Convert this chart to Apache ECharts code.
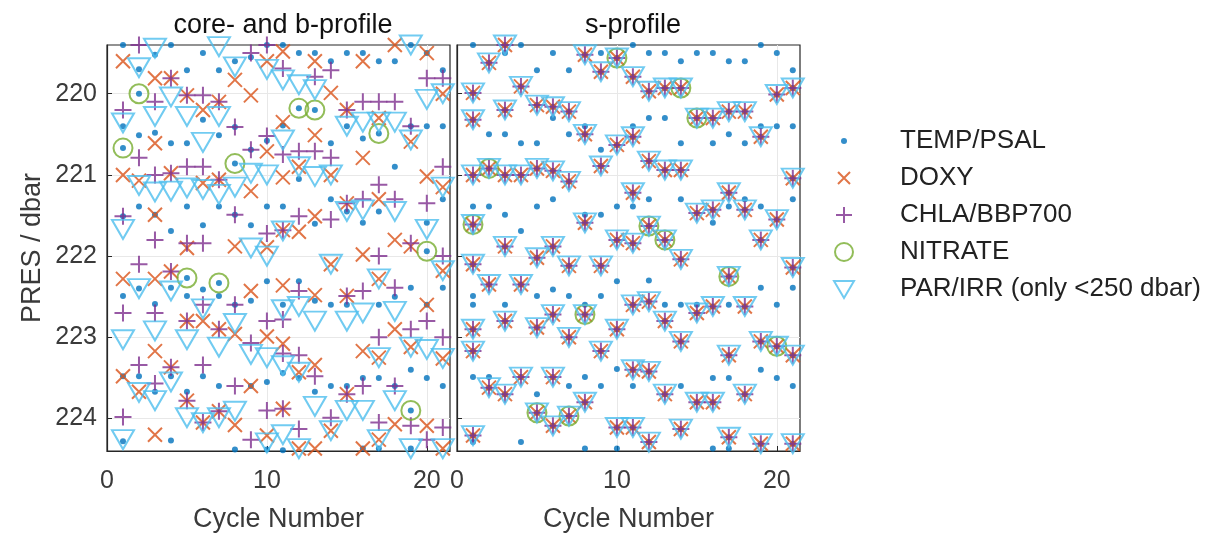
<!DOCTYPE html>
<html><head><meta charset="utf-8">
<script src="https://cdn.jsdelivr.net/npm/echarts@6/dist/echarts.min.js"></script>
<style>html,body{margin:0;padding:0;background:#fff}#c{width:1216px;height:540px}</style>
</head><body><div id="c"></div>
<script>
// ---------- DATA (pressures per cycle, index 0 = cycle 1) ----------
const panelTitles = ['core- and b-profile', 's-profile'];
const xTicks = [0, 10, 20];
const yTicks = [220, 221, 222, 223, 224];
const seriesNames = ['TEMP/PSAL', 'DOXY', 'CHLA/BBP700', 'NITRATE', 'PAR/IRR (only <250 dbar)'];

// core- and b-profile
const coreTemp = [
  [219.40, 220.40, 220.67, 221.51, 222.49, 223.48, 224.28],
  [219.70, 220.00, 220.51, 221.39, 222.40, 223.48],
  [219.52, 220.48, 221.49, 222.59, 223.67],
  [219.40, 220.61, 221.69, 222.39, 223.48, 224.27],
  [219.71, 220.61, 221.39, 222.27, 222.49, 223.67],
  [219.50, 220.32, 221.62, 222.41, 223.48],
  [219.71, 220.51, 221.39, 222.33, 222.49, 223.60],
  [219.60, 220.41, 220.86, 221.49, 222.60, 224.38],
  [219.55, 220.69, 221.62, 222.55, 223.60],
  [219.40, 220.58, 221.39, 222.31, 223.55, 224.38],
  [219.40, 220.39, 221.39, 222.60, 223.44, 224.39],
  [219.50, 220.18, 221.05, 222.31, 223.50],
  [219.50, 220.20, 221.60, 222.55, 223.67],
  [219.60, 220.61, 221.30, 222.60, 223.60],
  [219.50, 220.40, 221.45, 222.60, 223.60],
  [219.50, 220.55, 221.59, 223.50, 224.37],
  [219.60, 220.49, 221.45, 222.60, 223.50, 224.37],
  [219.60, 220.90, 222.50, 223.60],
  [219.40, 220.40, 222.39, 223.40, 223.90, 224.37],
  [219.50, 220.40, 221.59, 221.94, 222.60, 223.50],
  [219.71, 220.40, 221.30, 222.39, 223.60]
];
const coreDoxy = [
  [219.60, 221.00, 222.28, 223.48],
  [221.07, 223.67],
  [219.81, 220.61, 221.49, 222.28, 223.17, 224.20],
  [219.81, 220.98, 222.19, 223.37],
  [220.02, 221.90, 222.80, 223.78],
  [220.20, 221.10, 222.80, 224.05],
  [220.10, 221.06, 222.90, 223.91],
  [219.83, 221.88, 222.96, 224.08],
  [220.02, 221.20, 222.43, 223.60],
  [219.60, 220.71, 221.89, 222.99, 224.21],
  [219.48, 220.35, 221.03, 221.68, 222.36, 223.08, 223.88],
  [220.90, 221.70, 223.43, 224.37],
  [219.60, 220.51, 221.51, 222.48, 223.34, 224.37],
  [219.99, 221.00, 222.10, 224.15],
  [220.20, 221.35, 222.49, 223.70],
  [219.60, 220.79, 221.98, 223.17, 224.37],
  [220.30, 221.30, 222.28, 223.25, 224.26],
  [219.40, 221.80, 222.90, 224.07],
  [220.59, 221.88, 223.12],
  [219.50, 221.02, 222.60, 224.09],
  [220.00, 221.15, 222.18, 223.26, 224.37]
];
const coreChla = [
  [220.20, 221.51, 222.70, 223.98],
  [219.40, 220.79, 222.10, 223.34],
  [220.10, 221.00, 221.80, 222.70, 223.57],
  [219.81, 220.98, 222.19, 223.37],
  [220.02, 220.90, 221.84, 222.80, 223.78],
  [220.02, 220.90, 221.84, 222.60, 223.34, 224.05],
  [220.10, 221.06, 222.90, 223.91],
  [220.41, 221.49, 222.60, 223.60],
  [219.50, 220.69, 223.07, 224.26],
  [219.40, 220.52, 221.72, 222.80, 223.90],
  [219.69, 220.75, 221.68, 222.78, 223.20, 223.88],
  [220.71, 221.51, 222.43, 223.22, 224.13],
  [219.79, 220.71, 223.48],
  [219.71, 220.79, 221.55, 223.99],
  [220.20, 221.35, 222.49, 223.70],
  [220.10, 221.30, 222.43, 223.60],
  [220.10, 221.12, 222.00, 223.00, 224.05],
  [220.10, 221.30, 222.39, 223.60],
  [220.40, 221.84, 222.90, 224.09],
  [219.81, 221.35, 222.80, 224.26],
  [219.81, 220.90, 222.00, 223.00, 224.11]
];
const corePar = [
  [220.36, 221.67, 223.03, 224.26],
  [219.68, 221.13, 222.40, 223.68],
  [219.44, 220.28, 221.21, 222.92, 223.78],
  [220.04, 221.20, 222.43, 223.55],
  [220.28, 221.16, 223.03, 223.99],
  [220.60, 221.18, 222.65, 224.05],
  [219.42, 220.28, 221.24, 223.12, 223.99],
  [219.67, 221.15, 222.83, 223.91],
  [220.98, 221.90, 223.21],
  [219.70, 221.00, 222.00, 223.25, 224.30],
  [219.83, 220.57, 221.69, 222.66, 223.35, 224.20],
  [219.89, 220.90, 222.62, 223.43, 224.37],
  [219.95, 221.02, 222.80, 223.85],
  [221.00, 222.10, 224.15],
  [220.40, 221.45, 222.80, 223.90],
  [220.35, 221.43, 222.70, 223.90],
  [220.35, 222.28, 223.25, 224.26],
  [220.35, 221.45, 222.68, 223.78],
  [219.40, 220.57, 223.12, 224.37],
  [220.07, 221.67, 223.15],
  [220.00, 221.15, 222.18, 223.26, 224.37]
];
const coreNitrateCycle = [1, 2, 5, 7, 8, 12, 13, 17, 19, 20];
const coreNitratePres  = [220.67, 220.00, 222.27, 222.33, 220.86, 220.18, 220.20, 220.49, 223.90, 221.94];

// s-profile: levels shared by TEMP, DOXY, CHLA and PAR
const sShared = [
  [219.99, 220.32, 221.00, 221.61, 222.10, 222.90, 223.17, 224.21],
  [219.62, 220.92, 222.35, 223.62],
  [219.40, 220.20, 221.00, 221.88, 222.80, 223.70],
  [219.91, 221.00, 222.35, 223.49],
  [220.14, 220.92, 222.02, 222.88, 223.93],
  [220.16, 220.95, 221.88, 222.72, 223.49, 224.09],
  [220.22, 221.08, 222.12, 223.00, 223.97],
  [219.52, 220.50, 221.59, 222.72, 223.80],
  [219.73, 220.89, 222.12, 223.17],
  [219.56, 220.63, 221.80, 222.90, 224.11],
  [219.79, 220.53, 221.22, 221.84, 222.60, 223.40, 224.11],
  [219.97, 220.83, 221.63, 222.56, 223.42, 224.29],
  [219.93, 220.94, 221.80, 222.80, 223.70],
  [219.93, 220.94, 222.04, 223.05, 224.13],
  [220.30, 221.47, 222.70, 223.80],
  [220.30, 221.43, 222.62, 223.80],
  [220.22, 221.22, 222.25, 223.22, 224.23],
  [220.22, 221.43, 222.62, 223.70],
  [220.53, 221.80, 223.05, 224.31],
  [220.01, 221.55, 223.11],
  [219.93, 221.04, 222.14, 223.22, 224.31]
];
// s-profile: levels with TEMP/PSAL only
const sTempOnly = [
  [219.40, 221.39, 222.49, 222.60, 223.49, 224.29],
  [220.50, 221.39, 223.49],
  [219.50, 220.50, 221.49, 222.60],
  [219.40, 220.61, 221.69, 224.29],
  [219.71, 220.61, 221.39, 222.49, 223.70],
  [219.50, 220.30, 221.30, 222.41],
  [219.71, 220.50, 222.49, 223.60],
  [220.40, 221.49, 222.60, 223.49, 224.37],
  [219.50, 220.69, 221.49, 222.49, 223.60],
  [221.39, 222.31, 223.39, 224.37],
  [219.40, 220.40, 221.39, 223.60],
  [219.50, 220.30, 221.30, 222.30],
  [219.50, 220.30, 222.60],
  [219.60, 220.61, 221.30, 222.60, 223.60],
  [219.50, 222.60],
  [219.50, 220.61, 221.59, 223.50, 224.37],
  [219.60, 220.50, 221.39, 222.60, 223.50, 224.37],
  [219.60, 220.61, 221.30],
  [219.40, 220.40, 221.39, 222.39, 223.40],
  [219.50, 220.40, 222.60, 223.50],
  [219.71, 220.40, 221.30, 222.39, 223.60]
];
const sNitrateCycle = [1, 2, 5, 7, 8, 10, 12, 13, 14, 15, 17, 20];
const sNitratePres  = [221.61, 220.92, 223.93, 223.97, 222.72, 219.56, 221.63, 221.80, 219.93, 220.30, 222.25, 223.11];

// ---------- BUILD ----------
function perCycle(lists) {
  const out = [];
  lists.forEach((arr, i) => arr.forEach(p => out.push([i + 1, p])));
  return out;
}
function zipPairs(xs, ys) { return xs.map((x, i) => [x, ys[i]]); }

const FONT = 'Liberation Sans, Arial, sans-serif';
const C = { temp: '#0072BD', doxy: '#D95319', chla: '#7E2F8E', nit: '#77AC30', par: '#4DBEEE' };
const SYM = {
  x: 'path://M0,0L10,10M10,0L0,10',
  plus: 'path://M5,0L5,10M0,5L10,5',
  tri: 'path://M0,0L10,0L5,8.66Z'
};
const ICON = {
  dot: 'path://M0,0M22,20M11,7A3,3,0,1,1,11,13A3,3,0,1,1,11,7Z',
  x: 'path://M0,0M22,20M5,4L17,16M17,4L5,16',
  plus: 'path://M0,0M22,20M11,2L11,18M3,10L19,10',
  circ: 'path://M0,0M22,20M11,1A9,9,0,1,1,11,19A9,9,0,1,1,11,1Z',
  tri: 'path://M0,0M22,20M1,2L21,2L11,19Z'
};
const clear = 'rgba(0,0,0,0)';

function mk(name, idx, data, kind) {
  const base = { name, type: 'scatter', xAxisIndex: idx, yAxisIndex: idx, data, silent: true,
    emphasis: { disabled: true }, animation: false };
  if (kind === 'temp') return Object.assign(base, { symbol: 'circle', symbolSize: 6, itemStyle: { color: C.temp } });
  if (kind === 'doxy') return Object.assign(base, { symbol: SYM.x, symbolSize: 14, itemStyle: { color: clear, borderColor: C.doxy, borderWidth: 2 } });
  if (kind === 'chla') return Object.assign(base, { symbol: SYM.plus, symbolSize: 17, itemStyle: { color: clear, borderColor: C.chla, borderWidth: 2 } });
  if (kind === 'nit') return Object.assign(base, { symbol: 'circle', symbolSize: 19, itemStyle: { color: clear, borderColor: C.nit, borderWidth: 2 } });
  return Object.assign(base, { symbol: SYM.tri, symbolSize: [22, 19], itemStyle: { color: clear, borderColor: C.par, borderWidth: 2 } });
}

const sTempAll = perCycle(sShared).concat(perCycle(sTempOnly));
const series = [
  mk(seriesNames[0], 0, perCycle(coreTemp), 'temp'),
  mk(seriesNames[1], 0, perCycle(coreDoxy), 'doxy'),
  mk(seriesNames[2], 0, perCycle(coreChla), 'chla'),
  mk(seriesNames[3], 0, zipPairs(coreNitrateCycle, coreNitratePres), 'nit'),
  mk(seriesNames[4], 0, perCycle(corePar), 'par'),
  mk(seriesNames[0], 1, sTempAll, 'temp'),
  mk(seriesNames[1], 1, perCycle(sShared), 'doxy'),
  mk(seriesNames[2], 1, perCycle(sShared), 'chla'),
  mk(seriesNames[3], 1, zipPairs(sNitrateCycle, sNitratePres), 'nit'),
  mk(seriesNames[4], 1, perCycle(sShared), 'par')
];

const axisCol = '#262626';
const labelCol = '#3a3a3a';
function xAx(i) {
  return {
    type: 'value', gridIndex: i, min: 0, max: 21.45,
    name: 'Cycle Number', nameLocation: 'middle', nameGap: 55,
    nameTextStyle: { fontSize: 27, color: labelCol, fontFamily: FONT },
    axisLine: { show: true, lineStyle: { color: axisCol, width: 1.2 } },
    axisTick: { show: true, inside: true, length: 5, customValues: xTicks, lineStyle: { color: axisCol } },
    axisLabel: { customValues: xTicks, fontSize: 25, color: labelCol, margin: 18, fontFamily: FONT },
    splitLine: { show: true, lineStyle: { color: '#e8e8e8', width: 1 } }
  };
}
function yAx(i) {
  return {
    type: 'value', gridIndex: i, min: 219.4, max: 224.4, inverse: true,
    name: i === 0 ? 'PRES / dbar' : '', nameLocation: 'middle', nameGap: 61, nameRotate: 90,
    nameTextStyle: { fontSize: 27, color: labelCol, fontFamily: FONT },
    axisLine: { show: true, lineStyle: { color: axisCol, width: 1.2 } },
    axisTick: { show: true, inside: true, length: 5, customValues: yTicks, lineStyle: { color: axisCol } },
    axisLabel: { show: i === 0, customValues: yTicks, fontSize: 25, color: labelCol, margin: 10, fontFamily: FONT },
    splitLine: { show: true, lineStyle: { color: '#e8e8e8', width: 1 } }
  };
}

const legendItems = [
  { name: seriesNames[0], icon: ICON.dot, itemStyle: { color: C.temp, borderWidth: 0 } },
  { name: seriesNames[1], icon: ICON.x, itemStyle: { color: clear, borderColor: C.doxy, borderWidth: 2 } },
  { name: seriesNames[2], icon: ICON.plus, itemStyle: { color: clear, borderColor: C.chla, borderWidth: 2 } },
  { name: seriesNames[3], icon: ICON.circ, itemStyle: { color: clear, borderColor: C.nit, borderWidth: 2 } },
  { name: seriesNames[4], icon: ICON.tri, itemStyle: { color: clear, borderColor: C.par, borderWidth: 2 } }
];

const chart = echarts.init(document.getElementById('c'), null, { renderer: 'canvas' });
chart.setOption({
  animation: false,
  backgroundColor: '#fff',
  textStyle: { fontFamily: FONT },
  title: [
    { text: panelTitles[0], left: 278, top: 7, textAlign: 'center', textStyle: { fontSize: 27, fontWeight: 'normal', color: '#111', fontFamily: FONT } },
    { text: panelTitles[1], left: 628, top: 7, textAlign: 'center', textStyle: { fontSize: 27, fontWeight: 'normal', color: '#111', fontFamily: FONT } }
  ],
  grid: [
    { left: 107, top: 45, width: 343, height: 406, show: true, borderColor: axisCol, borderWidth: 1.2, backgroundColor: clear },
    { left: 457, top: 45, width: 343, height: 406, show: true, borderColor: axisCol, borderWidth: 1.2, backgroundColor: clear }
  ],
  xAxis: [xAx(0), xAx(1)],
  yAxis: [yAx(0), yAx(1)],
  legend: {
    orient: 'vertical', left: 827, top: 123, itemWidth: 22, itemHeight: 20, itemGap: 11,
    selectedMode: false,
    textStyle: { fontSize: 26, color: '#222', fontFamily: FONT, padding: [0, 0, 0, 40] },
    data: legendItems
  },
  series
});
</script>
</body></html>
